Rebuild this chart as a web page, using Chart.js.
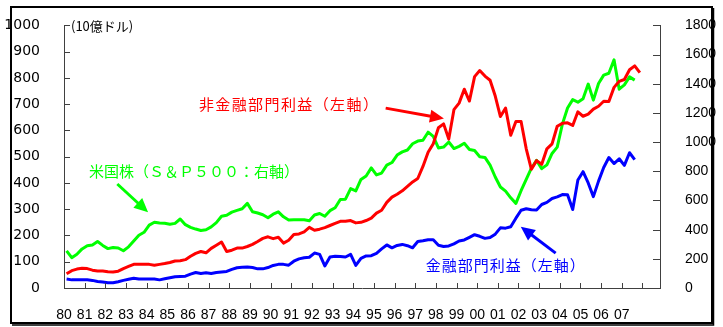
<!DOCTYPE html>
<html><head><meta charset="utf-8">
<script src="https://cdn.jsdelivr.net/npm/chart.js@4.4.0/dist/chart.umd.min.js"></script>
<style>html,body{margin:0;padding:0;background:#fff;overflow:hidden}canvas{display:block}</style>
</head><body>
<canvas id="c" width="723" height="327"></canvas>
<script>
// ---- data (quarterly, 1980Q1 onward) ----
const START_YEAR = 1980;
const TICK_YEARS = [1980,1981,1982,1983,1984,1985,1986,1987,1988,1989,1990,1991,1992,1993,1994,1995,1996,1997,1998,1999,2000,2001,2002,2003,2004,2005,2006,2007,2008];
const TICK_LABELS = ['80','81','82','83','84','85','86','87','88','89','90','91','92','93','94','95','96','97','98','99','00','01','02','03','04','05','06','07',''];
const LEFT_TICKS = [0,100,200,300,400,500,600,700,800,900,1000];
const RIGHT_TICKS = [0,200,400,600,800,1000,1200,1400,1600,1800];

// 非金融部門利益 (左軸, 10億ドル)
const NONFIN = [54,66,72,75,74,68,65,65,62,61,
  64,74,82,90,90,90,90,87,90,93,
  97,103,104,108,121,132,139,134,151,163,
  175,139,144,152,152,158,166,177,189,195,
  188,193,171,182,204,206,214,231,220,224,
  230,238,246,254,254,257,248,250,257,266,
  285,296,326,346,357,370,387,404,417,463,
  517,549,610,625,567,679,704,757,712,805,
  828,807,791,731,653,685,582,634,634,530,
  452,485,471,530,549,616,627,629,619,671,
  654,662,681,692,711,710,764,787,794,831,
  846,820];
// 金融部門利益 (左軸, 10億ドル)
const FIN = [34,31,31,31,31,29,25,23,20,20,
  24,29,33,37,34,34,34,34,31,35,
  39,43,44,45,53,59,55,58,55,59,
  61,63,71,77,79,80,78,73,73,78,
  86,90,90,87,102,111,115,117,133,128,
  84,118,121,120,118,128,86,113,122,123,
  132,149,164,153,162,166,161,153,177,180,
  184,184,163,158,160,168,179,183,193,203,
  197,189,192,205,229,228,233,266,296,302,
  298,297,318,326,341,347,356,355,299,411,
  443,400,348,407,459,497,474,492,467,515,489];
// 米国株 S&P500 (右軸)
const SP500 = [255,208,231,268,290,295,319,292,270,278,
  274,255,282,322,362,382,431,451,446,444,
  437,443,473,434,416,404,394,399,419,448,
  492,498,520,532,543,580,523,514,502,481,
  506,522,488,466,468,468,468,461,500,511,
  492,530,550,607,609,681,665,744,768,823,
  775,788,842,860,911,933,946,989,1007,1013,
  1068,1039,960,966,1001,956,971,992,949,942,
  900,895,842,761,692,664,618,580,667,744,
  821,875,818,844,922,966,1123,1234,1291,1274,
  1298,1398,1288,1402,1459,1472,1564,1363,1392,1447,1425];

// quarter -> mid-quarter year position
const toPts = arr => arr.map((v, i) => ({x: START_YEAR + (i + 0.5) / 4, y: v}));

// annotations (anchored in data coordinates: [year, left-axis value])
const NOTES = [
  {text: '非金融部門利益（左軸）', color: '#ff0000', at: [1986.53, 700], spacing: 1.4,
   from: [1995.57, 685], to: [1998.39, 645]},
  {text: '米国株（Ｓ＆Ｐ５００：右軸）', color: '#00ff00', at: [1981.21, 443], spacing: 0,
   from: [1982.58, 396], to: [1984.07, 288]},
  {text: '金融部門利益（左軸）', color: '#0000ff', at: [1997.51, 87], spacing: 1.0,
   from: [2003.80, 133], to: [2002.11, 233]}
];

const AXIS_COLOR = '#404040';

function arrow(ctx, x1, y1, x2, y2, color) {
  const ang = Math.atan2(y2 - y1, x2 - x1);
  const hl = 14, hw = 6.5;
  const bx = x2 - hl * Math.cos(ang), by = y2 - hl * Math.sin(ang);
  ctx.save();
  ctx.strokeStyle = color; ctx.fillStyle = color; ctx.lineWidth = 3; ctx.lineCap = 'butt';
  ctx.beginPath(); ctx.moveTo(x1, y1); ctx.lineTo(bx + 2 * Math.cos(ang), by + 2 * Math.sin(ang)); ctx.stroke();
  ctx.beginPath();
  ctx.moveTo(x2, y2);
  ctx.lineTo(bx + hw * Math.sin(ang), by - hw * Math.cos(ang));
  ctx.lineTo(bx - hw * Math.sin(ang), by + hw * Math.cos(ang));
  ctx.closePath(); ctx.fill();
  ctx.restore();
}

const decor = {
  id: 'decor',
  afterDraw(chart) {
    const {ctx, chartArea: ca} = chart;
    const xs = chart.scales.x, yl = chart.scales.yL, yr = chart.scales.yR;
    ctx.save();
    ctx.strokeStyle = AXIS_COLOR; ctx.lineWidth = 1;
    ctx.beginPath();
    LEFT_TICKS.forEach(v => { const y = Math.round(yl.getPixelForValue(v)) + 0.5; ctx.moveTo(ca.left, y); ctx.lineTo(ca.left + 6, y); });
    RIGHT_TICKS.forEach(v => { const y = Math.round(yr.getPixelForValue(v)) + 0.5; ctx.moveTo(ca.right - 7, y); ctx.lineTo(ca.right, y); });
    TICK_YEARS.forEach(v => { const x = Math.round(xs.getPixelForValue(v)) + 0.5; ctx.moveTo(x, ca.bottom); ctx.lineTo(x, ca.bottom - 5); });
    ctx.stroke();

    // unit label
    ctx.fillStyle = '#000';
    ctx.font = '13px "Noto Sans CJK JP"';
    ctx.textBaseline = 'middle'; ctx.textAlign = 'left';
    ctx.fillText('(10億ドル)', ca.left + 7, ca.top + 1);

    // annotations
    NOTES.forEach(n => {
      ctx.font = '15px "Noto Sans CJK JP"';
      ctx.fillStyle = n.color;
      try { ctx.letterSpacing = n.spacing + 'px'; } catch (e) {}
      ctx.fillText(n.text, xs.getPixelForValue(n.at[0]), yl.getPixelForValue(n.at[1]));
      try { ctx.letterSpacing = '0px'; } catch (e) {}
      arrow(ctx, xs.getPixelForValue(n.from[0]), yl.getPixelForValue(n.from[1]),
                 xs.getPixelForValue(n.to[0]), yl.getPixelForValue(n.to[1]), n.color);
    });

    // outer frame
    ctx.strokeStyle = '#000'; ctx.lineWidth = 2;
    ctx.strokeRect(11, 7, 701, 316);
    ctx.lineWidth = 1.5;
    ctx.beginPath(); ctx.moveTo(713.5, 8); ctx.lineTo(713.5, 325); ctx.lineTo(12, 325); ctx.stroke();
    ctx.restore();
  }
};

new Chart(document.getElementById('c'), {
  type: 'line',
  data: {
    datasets: [
      {label: '非金融部門利益', data: toPts(NONFIN), yAxisID: 'yL', borderColor: '#ff0000'},
      {label: '金融部門利益', data: toPts(FIN), yAxisID: 'yL', borderColor: '#0000ff'},
      {label: '米国株', data: toPts(SP500), yAxisID: 'yR', borderColor: '#00ff00'}
    ]
  },
  options: {
    responsive: false, animation: false, devicePixelRatio: 1,
    layout: {padding: {top: 19, left: 0, right: 0, bottom: 0}},
    elements: {
      line: {borderWidth: 3, tension: 0, borderJoinStyle: 'round', borderCapStyle: 'butt'},
      point: {radius: 0, hoverRadius: 0}
    },
    plugins: {legend: {display: false}, tooltip: {enabled: false}},
    scales: {
      x: {
        type: 'linear', position: 'bottom', min: 1980, max: 2008.85,
        afterBuildTicks: s => { s.ticks = TICK_YEARS.map(v => ({value: v})); },
        afterFit: s => { s.height = 39; },
        grid: {display: false},
        border: {display: true, color: AXIS_COLOR, width: 1},
        ticks: {
          autoSkip: false, maxRotation: 0, minRotation: 0, padding: 11, color: '#000',
          font: {family: '"Liberation Sans Narrow", "Liberation Sans", sans-serif', size: 14},
          callback: (v) => TICK_LABELS[TICK_YEARS.indexOf(v)] ?? ''
        }
      },
      yL: {
        type: 'linear', position: 'left', min: 0, max: 1000,
        afterBuildTicks: s => { s.ticks = LEFT_TICKS.map(v => ({value: v})); },
        afterFit: s => { s.width = 64; },
        grid: {display: false},
        border: {display: true, color: AXIS_COLOR, width: 1},
        ticks: {padding: 16, color: '#000', font: {family: '"DejaVu Sans", sans-serif', size: 14},
          callback: v => String(v)}
      },
      yR: {
        type: 'linear', position: 'right', min: 0, max: 1800,
        afterBuildTicks: s => { s.ticks = RIGHT_TICKS.map(v => ({value: v})); },
        afterFit: s => { s.width = 63; },
        grid: {display: false},
        border: {display: true, color: AXIS_COLOR, width: 1},
        ticks: {padding: 17, color: '#000', font: {family: '"Liberation Sans Narrow", "Liberation Sans", sans-serif', size: 14},
          callback: v => String(v)}
      }
    }
  },
  plugins: [decor]
});
</script>
</body></html>
